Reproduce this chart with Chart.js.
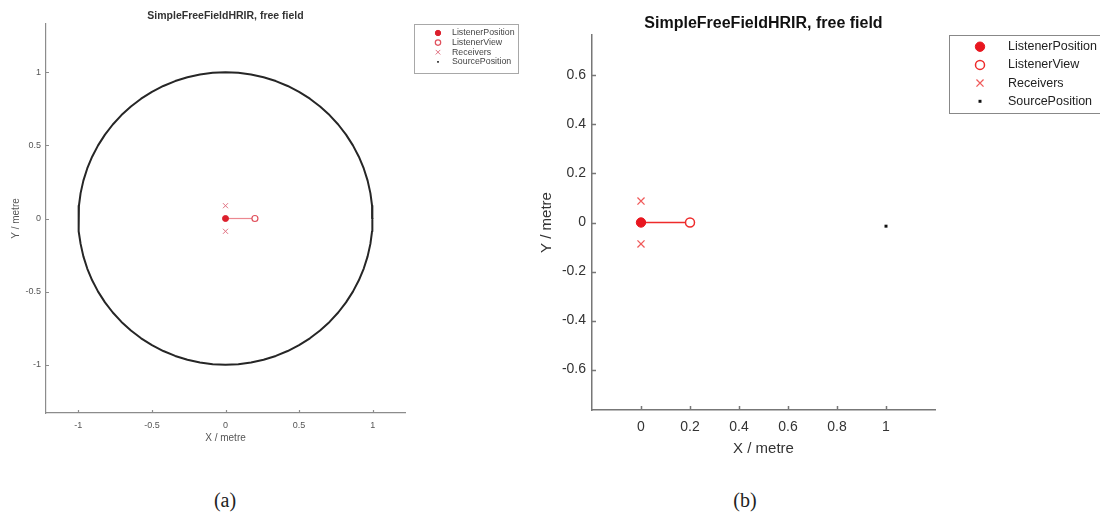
<!DOCTYPE html>
<html>
<head>
<meta charset="utf-8">
<script src="https://cdn.jsdelivr.net/npm/chart.js@4.4.1/dist/chart.umd.min.js"></script>
<style>
  html, body { margin: 0; padding: 0; background: #fff; }
  #wrap { position: relative; width: 1100px; height: 527px; overflow: hidden; }
  canvas { position: absolute; top: 0; }
  #chartA { left: 0; }
  #chartB { left: 530px; }
  .cap { position: absolute; top: 488px; width: 60px; margin-left: -30px; text-align: center;
         font-family: "Liberation Serif", "DejaVu Serif", serif; font-size: 20px; line-height: 24px; color: #222; }
</style>
</head>
<body>
<div id="wrap">
  <canvas id="chartA" width="530" height="470"></canvas>
  <canvas id="chartB" width="570" height="470"></canvas>
  <div class="cap" style="left:225px">(a)</div>
  <div class="cap" style="left:745px">(b)</div>
</div>
<script>
// ---- data ----
const TITLE = 'SimpleFreeFieldHRIR, free field';

// listener, view direction and the two ear receivers (metres)
const listenerPos = [0, 0];
const listenerView = [0.2, 0];
const receiverX = [0, 0];
const receiverY = [0.0875, -0.0875];

// (a) source grid: horizontal plane, radius 1 m, azimuths in degrees
const sourceRadiusA = 1;
const sourceAzimuthA = [0, 5, 10, 15, 20, 25, 30, 35, 40, 45, 50, 55, 60, 65, 70, 75, 80, 85,
  90, 95, 100, 105, 110, 115, 120, 125, 130, 135, 140, 145, 150, 155, 160, 165, 170, 175,
  180, 185, 190, 195, 200, 205, 210, 215, 220, 225, 230, 235, 240, 245, 250, 255, 260, 265,
  270, 275, 280, 285, 290, 295, 300, 305, 310, 315, 320, 325, 330, 335, 340, 345, 350, 355];

// (b) single source position
const sourceXB = [1];
const sourceYB = [-0.015];

// axis ranges and tick labels
const xRangeA = [-1.22, 1.22];
const yRangeA = [-1.33, 1.33];
const xTicksA = [-1, -0.5, 0, 0.5, 1];
const yTicksA = [-1, -0.5, 0, 0.5, 1];
const xRangeB = [-0.2, 1.2];
const yRangeB = [-0.765, 0.765];
const xTicksB = [0, 0.2, 0.4, 0.6, 0.8, 1];
const yTicksB = [-0.6, -0.4, -0.2, 0, 0.2, 0.4, 0.6];

const SANS = '"Liberation Sans", Arial, sans-serif';

// legend in a bordered box, drawn from the datasets that carry a label
const boxLegend = {
  id: 'boxLegend',
  afterDraw(chart, args, o) {
    const ctx = chart.ctx;
    ctx.save();
    ctx.strokeStyle = o.borderColor;
    ctx.lineWidth = 1;
    ctx.strokeRect(o.x + 0.5, o.y + 0.5, o.w, o.h);
    ctx.font = o.fontSize + 'px ' + SANS;
    ctx.textBaseline = 'middle';
    let row = 0;
    chart.data.datasets.forEach(ds => {
      if (!ds.label) return;
      const y = o.y + o.firstRow + row * o.rowH;
      const m = Object.assign({
        pointStyle: ds.pointStyle, radius: ds.pointRadius,
        backgroundColor: ds.pointBackgroundColor, borderColor: ds.pointBorderColor,
        borderWidth: ds.pointBorderWidth
      }, ds.legendMarker || {});
      ctx.fillStyle = m.backgroundColor;
      ctx.strokeStyle = m.borderColor;
      ctx.lineWidth = m.borderWidth;
      Chart.helpers.drawPoint(ctx, { pointStyle: m.pointStyle, radius: m.radius * o.markerScale, rotation: 0, borderWidth: m.borderWidth }, o.markerX, y);
      ctx.fillStyle = o.textColor;
      ctx.fillText(ds.label, o.textX, y);
      row++;
    });
    ctx.restore();
  }
};

// MATLAB style tick marks pointing into the plot
const inwardTicks = {
  id: 'inwardTicks',
  afterDraw(chart, args, o) {
    const { ctx, chartArea: a, scales } = chart;
    ctx.save();
    ctx.strokeStyle = o.color;
    ctx.lineWidth = o.width;
    ctx.beginPath();
    scales.x.ticks.forEach(t => {
      const px = Math.round(scales.x.getPixelForValue(t.value)) + 0.5;
      ctx.moveTo(px, a.bottom);
      ctx.lineTo(px, a.bottom - o.length);
    });
    scales.y.ticks.forEach(t => {
      const py = Math.round(scales.y.getPixelForValue(t.value)) + 0.5;
      ctx.moveTo(a.left, py);
      ctx.lineTo(a.left + o.length, py);
    });
    ctx.stroke();
    ctx.restore();
  }
};

function pts(xs, ys) {
  return xs.map((x, i) => ({ x: x, y: ys[i] }));
}

function listenerSets(s) {
  return [
    {
      label: 'ListenerPosition', data: pts([listenerPos[0]], [listenerPos[1]]),
      pointStyle: 'circle', pointRadius: s.dot, pointBackgroundColor: s.red,
      pointBorderColor: s.red, pointBorderWidth: 1, order: 0
    },
    {
      label: 'ListenerView', data: pts([listenerView[0]], [listenerView[1]]),
      pointStyle: 'circle', pointRadius: s.ring, pointBackgroundColor: '#fff',
      pointBorderColor: s.ringColor, pointBorderWidth: s.ringWidth, order: 1
    },
    {
      label: 'Receivers', data: pts(receiverX, receiverY),
      pointStyle: 'crossRot', pointRadius: s.cross, pointBackgroundColor: s.crossColor,
      pointBorderColor: s.crossColor, pointBorderWidth: s.crossWidth, order: 2
    }
  ];
}

function viewLine(s) {
  return {
    data: pts([listenerPos[0], listenerView[0]], [listenerPos[1], listenerView[1]]),
    showLine: true, borderColor: s.lineColor, borderWidth: s.lineWidth,
    pointRadius: 0, order: 5
  };
}

function buildPanel(id, p) {
  const axisTitle = (text, size, pad) => ({
    display: true, text: text, color: p.textColor,
    font: { family: SANS, size: size }, padding: pad
  });
  const setTicks = list => s => { s.ticks = list.map(v => ({ value: v })); };
  const fmt = v => String(Math.round(v * 100) / 100);
  return new Chart(document.getElementById(id), {
    type: 'scatter',
    data: { datasets: p.datasets },
    options: {
      responsive: false,
      animation: false,
      devicePixelRatio: 1,
      layout: { padding: { left: 0, top: 0, right: p.padRight, bottom: 0 } },
      plugins: {
        legend: { display: false },
        tooltip: { enabled: false },
        title: {
          display: true, text: TITLE, fullSize: false, color: p.titleColor,
          font: { family: SANS, size: p.titleSize, weight: 'bold' },
          padding: { top: p.titlePad[0], bottom: p.titlePad[1] }
        },
        boxLegend: p.legend,
        inwardTicks: { length: p.tickLen, color: p.axisColor, width: p.axisWidth }
      },
      scales: {
        x: {
          type: 'linear', min: p.xRange[0], max: p.xRange[1],
          afterBuildTicks: setTicks(p.xTicks),
          afterFit: s => { s.height = p.xHeight; },
          grid: { display: true, drawOnChartArea: false, drawTicks: false },
          border: { display: true, color: p.axisColor, width: p.axisWidth },
          ticks: { color: p.textColor, font: { family: SANS, size: p.tickSize }, padding: p.xTickPad, maxRotation: 0, autoSkip: false, callback: fmt },
          title: axisTitle('X / metre', p.labelSize, { top: 0, bottom: p.xTitlePad })
        },
        y: {
          type: 'linear', min: p.yRange[0], max: p.yRange[1],
          afterBuildTicks: setTicks(p.yTicks),
          afterFit: s => { s.width = p.yWidth; },
          grid: { display: true, drawOnChartArea: false, drawTicks: false },
          border: { display: true, color: p.axisColor, width: p.axisWidth },
          ticks: { color: p.textColor, font: { family: SANS, size: p.tickSize }, padding: p.yTickPad, autoSkip: false, callback: fmt },
          title: axisTitle('Y / metre', p.labelSize, { top: p.yTitlePad, bottom: 0 })
        }
      }
    },
    plugins: [boxLegend, inwardTicks]
  });
}

// ---- panel (a): full circle of sources ----
const styleA = {
  red: '#dc1f2c', dot: 3, ring: 3, ringColor: '#e0505c', ringWidth: 1.2,
  cross: 3.6, crossColor: '#e07080', crossWidth: 1, lineColor: '#ec8890', lineWidth: 1.2
};
const circleA = sourceAzimuthA.concat([sourceAzimuthA[0], sourceAzimuthA[1]]).map(az => ({
  x: sourceRadiusA * Math.cos(az * Math.PI / 180),
  y: sourceRadiusA * Math.sin(az * Math.PI / 180)
}));

buildPanel('chartA', {
  datasets: listenerSets(styleA).concat([
    {
      label: 'SourcePosition', data: circleA, showLine: true,
      borderColor: '#262626', borderWidth: 2, borderCapStyle: 'round', borderJoinStyle: 'round',
      pointRadius: 0, order: 6,
      legendMarker: { pointStyle: 'rect', radius: 1.3, backgroundColor: '#222', borderColor: '#222', borderWidth: 0 }
    },
    viewLine(styleA)
  ]),
  xRange: xRangeA, yRange: yRangeA, xTicks: xTicksA, yTicks: yTicksA,
  padRight: 125, xHeight: 57, yWidth: 46,
  titleSize: 10.5, titlePad: [9.5, 1.9], titleColor: '#333',
  tickSize: 9, labelSize: 10, textColor: '#555',
  xTickPad: 7, yTickPad: 5, xTitlePad: 26, yTitlePad: 10,
  axisColor: '#8c8c8c', axisWidth: 1.2, tickLen: 3,
  legend: {
    x: 414, y: 24, w: 104, h: 49, firstRow: 9, rowH: 9.6,
    markerX: 438, textX: 452, fontSize: 8.8, markerScale: 0.9,
    borderColor: '#a8a8a8', textColor: '#444'
  }
});

// ---- panel (b): single source in front ----
const styleB = {
  red: '#e8161f', dot: 4.7, ring: 4.5, ringColor: '#ee2b2b', ringWidth: 1.5,
  cross: 5, crossColor: '#f05a5a', crossWidth: 1.3, lineColor: '#ee2b2b', lineWidth: 1.5
};

buildPanel('chartB', {
  datasets: listenerSets(styleB).concat([
    {
      label: 'SourcePosition', data: pts(sourceXB, sourceYB),
      pointStyle: 'rect', pointRadius: 2.1, pointBackgroundColor: '#111',
      pointBorderColor: '#111', pointBorderWidth: 0, order: 3
    },
    viewLine(styleB)
  ]),
  xRange: xRangeB, yRange: yRangeB, xTicks: xTicksB, yTicks: yTicksB,
  padRight: 165, xHeight: 60, yWidth: 62,
  titleSize: 16, titlePad: [13.6, 2.2], titleColor: '#111',
  tickSize: 14, labelSize: 15, textColor: '#333',
  xTickPad: 9, yTickPad: 6, xTitlePad: 12, yTitlePad: 8,
  axisColor: '#777', axisWidth: 1.5, tickLen: 4,
  legend: {
    x: 419, y: 35, w: 200, h: 78, firstRow: 11.7, rowH: 18.2,
    markerX: 450, textX: 478, fontSize: 12.5, markerScale: 1,
    borderColor: '#888', textColor: '#222'
  }
});
</script>
</body>
</html>
